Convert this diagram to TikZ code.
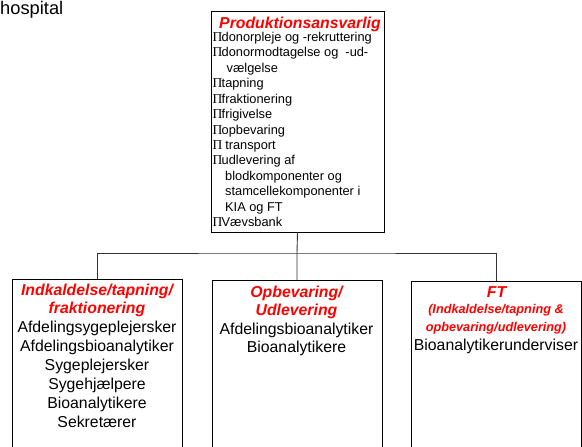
\documentclass[tikz,border=0pt]{standalone}
\usepackage{fontspec}
\setmainfont{Liberation Sans}
\newfontfamily\pifont{Liberation Serif}
\begin{document}
\begin{tikzpicture}[x=1pt,y=-1pt,
  boxstyle/.style={draw=black,line width=0.9pt,rectangle,inner sep=0pt},
  conn/.style={draw=black!80,line width=0.9pt},
  redtitle/.style={text=red,font=\fontsize{15.8}{19}\selectfont\bfseries\itshape,inner sep=0pt,anchor=base},
  redsmall/.style={text=red,font=\fontsize{12.7}{15}\selectfont\bfseries\itshape,inner sep=0pt,anchor=base},
  staff/.style={text=black,font=\fontsize{15.8}{19}\selectfont,inner sep=0pt,anchor=base},
  item/.style={text=black,font=\fontsize{12.8}{15}\selectfont,inner sep=0pt,anchor=base west},
  bul/.style={text=black,font=\fontsize{13.5}{15}\selectfont\pifont,inner sep=0pt,anchor=base west}
]
\clip (0,0) rectangle (582,447);
\fill[white] (0,0) rectangle (582,447);

\node[staff,anchor=base west,font=\fontsize{18.3}{20}\selectfont] (hosp) at (0,14) {hospital};

% boxes
\node[boxstyle,minimum width=173,minimum height=221] (top) at (297.5,121.5) {};
\node[boxstyle,minimum width=170,minimum height=200,anchor=north] (left) at (97,279) {};
\node[boxstyle,minimum width=170,minimum height=200,anchor=north] (mid) at (297,280) {};
\node[boxstyle,minimum width=170,minimum height=200,anchor=north] (right) at (496,281) {};

% connectors
\coordinate (bus) at (297,253);
\draw[conn] (top.south) -- (bus) -- (mid.north);
\draw[conn] (left.north) |- (bus) -| (right.north);

% top box text
\node[redtitle] (ttitle) at (300,28.3) {Produktionsansvarlig};
\foreach \t [count=\i] in {donorpleje og -rekruttering,donormodtagelse og \ -ud-,,tapning,fraktionering,frigivelse,opbevaring,\ transport,udlevering af,,,,Vævsbank}{
  \ifx\t\empty\else
  \node[bul] (b\i) at (212.3,{41.5+15.43*(\i-1)}) {Π};
  \node[item] (t\i) at (221.5,{41.5+15.43*(\i-1)}) {\t};
  \fi
}
\node[item] (c3) at (226.5,{41.5+15.43*2}) {vælgelse};
\node[item] (c10) at (225,{41.5+15.43*9}) {blodkomponenter og};
\node[item] (c11) at (225,{41.5+15.43*10}) {stamcellekomponenter i};
\node[item] (c12) at (225,{41.5+15.43*11}) {KIA og FT};

% left box text
\node[redtitle] (l1) at (97,295) {Indkaldelse/tapning/};
\node[redtitle] (l2) at (97,313.3) {fraktionering};
\node[staff] (l3) at (97,332.8) {Afdelingsygeplejersker};
\node[staff] (l4) at (97,351.8) {Afdelingsbioanalytiker};
\node[staff] (l5) at (97,370.5) {Sygeplejersker};
\node[staff] (l6) at (97,389) {Sygehjælpere};
\node[staff] (l7) at (97,408) {Bioanalytikere};
\node[staff] (l8) at (97,427) {Sekretærer};

% middle box text
\node[redtitle] (m1) at (296.5,297) {Opbevaring/};
\node[redtitle] (m2) at (296.5,315.3) {Udlevering};
\node[staff] (m3) at (296.5,334) {Afdelingsbioanalytiker};
\node[staff] (m4) at (296.5,352.8) {Bioanalytikere};

% right box text
\node[redtitle] (r1) at (496.5,297) {FT};
\node[redsmall] (r2) at (496,313.8) {(Indkaldelse/tapning \&};
\node[redsmall] (r3) at (496,331.2) {opbevaring/udlevering)};
\node[staff] (r4) at (496,350.5) {Bioanalytikerunderviser};
\end{tikzpicture}
\end{document}
